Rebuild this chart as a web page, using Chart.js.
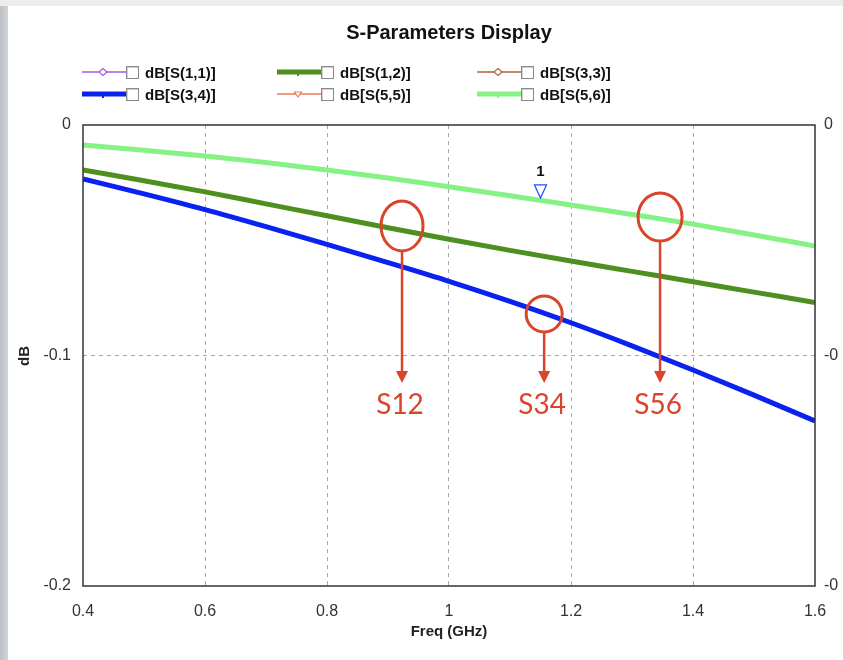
<!DOCTYPE html>
<html>
<head>
<meta charset="utf-8">
<script src="https://cdn.jsdelivr.net/npm/chart.js@4.4.1/dist/chart.umd.min.js"></script>
<style>
  html, body { margin: 0; padding: 0; width: 843px; height: 660px; overflow: hidden; background: #fff;
    font-family: "Liberation Sans", Arial, sans-serif; }
  #edgeLeft { position: absolute; left: 0; top: 0; width: 8px; height: 660px;
    background: linear-gradient(to right, #bcc0c4, #d2d5d8); }
  #edgeTop { position: absolute; left: 0; top: 0; width: 843px; height: 6px; background: #ececec; }
  #plot { position: absolute; left: 0; top: 0; }
  #title { position: absolute; left: 249px; width: 400px; top: 21px; text-align: center;
    font-weight: bold; font-size: 20px; color: #111; }
  #ytitle { position: absolute; left: 4px; top: 346px; width: 40px; height: 20px; line-height: 20px;
    text-align: center; font-weight: bold; font-size: 15px; color: #222; transform: rotate(-90deg); }
  #xtitle { position: absolute; left: 349px; width: 200px; top: 622px; text-align: center;
    font-family: "Liberation Sans Narrow", "Liberation Sans", Arial, sans-serif;
    font-weight: bold; font-size: 15px; color: #222; }
  .leg { position: absolute; height: 16px; white-space: nowrap; }
  .leg svg { position: absolute; left: 0; top: 0; }
  .leg .box { position: absolute; top: 1px; width: 11px; height: 11px; background: #fff;
    border: 1px solid #8a8a8a; box-shadow: inset 1px 1px 0 #d0d0d0; }
  .leg .txt { position: absolute; top: -1px; font-weight: bold; font-size: 15px; color: #111; }
</style>
</head>
<body>
<div id="edgeLeft"></div>
<div id="edgeTop"></div>
<canvas id="plot" width="843" height="660"></canvas>
<div id="title">S-Parameters Display</div>
<div id="ytitle">dB</div>
<div id="xtitle">Freq (GHz)</div>
<div id="legend"></div>
<script>
// Frequency sweep (GHz) and traces (dB)
const freqGHz = [0.4, 0.5, 0.6, 0.7, 0.8, 0.9, 1.0, 1.1, 1.2, 1.3, 1.4, 1.5, 1.6];
const s12 = [-0.0195, -0.0242, -0.0290, -0.0342, -0.0394, -0.0446, -0.0496, -0.0544, -0.0590, -0.0635, -0.0680, -0.0725, -0.0770];
const s34 = [-0.0234, -0.0299, -0.0367, -0.0441, -0.0518, -0.0597, -0.0678, -0.0765, -0.0858, -0.0958, -0.1063, -0.1172, -0.1284];
const s56 = [-0.0087, -0.0110, -0.0134, -0.0163, -0.0195, -0.0230, -0.0268, -0.0307, -0.0347, -0.0388, -0.0430, -0.0477, -0.0525];

// Axis tick labels
const xTickLabels = ['0.4', '0.6', '0.8', '1', '1.2', '1.4', '1.6'];
const yTickLabels = ['-0.2', '-0.1', '0'];
const y2TickLabels = ['-0', '-0', '0'];

// Legend entries (two rows of three)
const legendNames = ['dB[S(1,1)]', 'dB[S(1,2)]', 'dB[S(3,3)]', 'dB[S(3,4)]', 'dB[S(5,5)]', 'dB[S(5,6)]'];

// Marker 1 on S(5,6)
const markerFreq = 1.15;
const markerDb = -0.0325;

// Highlighted points
const calloutLabels = ['S12', 'S34', 'S56'];
const calloutFreq = [0.923, 1.156, 1.346];
const calloutDb = [-0.0438, -0.0820, -0.0399];

const legendStyle = [
  { color: '#a45ae6', width: 1.5, marker: 'diamond' },
  { color: '#4f8f1f', width: 5, marker: 'tick' },
  { color: '#b0623a', width: 1.5, marker: 'diamond' },
  { color: '#0a22f0', width: 5, marker: 'tick' },
  { color: '#ee7a58', width: 1.5, marker: 'tri' },
  { color: '#86f286', width: 5, marker: 'tick' }
];
const colX = [82, 277, 477];
const rowY = [65, 87];
const legendEl = document.getElementById('legend');
legendNames.forEach((name, i) => {
  const st = legendStyle[i];
  const col = i % 3, row = Math.floor(i / 3);
  const d = document.createElement('div');
  d.className = 'leg';
  d.style.left = colX[col] + 'px';
  d.style.top = rowY[row] + 'px';
  let mk = '';
  if (st.marker === 'diamond') {
    mk = `<polygon points="21,3.5 25,7 21,10.5 17,7" fill="#fff" stroke="${st.color}" stroke-width="1.2"/>`;
  } else if (st.marker === 'tri') {
    mk = `<polygon points="17.5,5 24.5,5 21,10" fill="#fff" stroke="${st.color}" stroke-width="1.2"/>`;
  } else {
    mk = `<line x1="21" y1="7" x2="21" y2="11" stroke="${st.color}" stroke-width="2"/>`;
  }
  d.innerHTML =
    `<svg width="44" height="16"><line x1="0" y1="7" x2="44" y2="7" stroke="${st.color}" stroke-width="${st.width}"/>${mk}</svg>` +
    `<span class="box" style="left:44px"></span>` +
    `<span class="txt" style="left:63px">${name}</span>`;
  legendEl.appendChild(d);
});

const pts = arr => freqGHz.map((f, i) => ({ x: f, y: arr[i] }));

// Plot frame, marker and highlighted points
const overlay = {
  id: 'overlay',
  afterDatasetsDraw(chart) {
    const { ctx, chartArea: a, scales } = chart;
    const xs = scales.x, ys = scales.y;
    ctx.save();
    ctx.strokeStyle = '#333';
    ctx.lineWidth = 1.5;
    ctx.strokeRect(a.left, a.top, a.right - a.left, a.bottom - a.top);

    // marker 1
    const mx = xs.getPixelForValue(markerFreq);
    const my = ys.getPixelForValue(markerDb);
    ctx.strokeStyle = '#2a4cff';
    ctx.lineWidth = 1.3;
    ctx.fillStyle = '#fff';
    ctx.beginPath();
    ctx.moveTo(mx - 6, my - 15);
    ctx.lineTo(mx + 6, my - 15);
    ctx.lineTo(mx, my - 2);
    ctx.closePath();
    ctx.fill();
    ctx.stroke();
    ctx.fillStyle = '#111';
    ctx.font = 'bold 15px "Liberation Sans", Arial, sans-serif';
    ctx.textAlign = 'center';
    ctx.textBaseline = 'alphabetic';
    ctx.fillText('1', mx, my - 24);

    // callouts
    const red = '#d9452b';
    const radii = [[21, 25], [18, 18], [22, 24]];
    const tipY = ys.getPixelForValue(-0.1119);
    calloutLabels.forEach((lab, i) => {
      const cx = xs.getPixelForValue(calloutFreq[i]);
      const cy = ys.getPixelForValue(calloutDb[i]);
      const [rx, ry] = radii[i];
      ctx.strokeStyle = red;
      ctx.fillStyle = red;
      ctx.lineWidth = 3;
      ctx.beginPath();
      ctx.ellipse(cx, cy, rx, ry, 0, 0, Math.PI * 2);
      ctx.stroke();
      ctx.lineWidth = 2.5;
      ctx.beginPath();
      ctx.moveTo(cx, cy + ry);
      ctx.lineTo(cx, tipY - 10);
      ctx.stroke();
      ctx.beginPath();
      ctx.moveTo(cx - 6, tipY - 12);
      ctx.lineTo(cx + 6, tipY - 12);
      ctx.lineTo(cx, tipY);
      ctx.closePath();
      ctx.fill();
      ctx.font = '28px Lato, "Open Sans", sans-serif';
      ctx.textAlign = 'center';
      ctx.fillText(lab, cx - 2, tipY + 31);
    });
    ctx.restore();
  }
};

const gridColor = (c, n) => (c.index === 0 || c.index === n - 1) ? 'rgba(0,0,0,0)' : '#a9a9a9';
const tickFont = { family: '"Liberation Sans", Arial, sans-serif', size: 16 };
const line = (label, arr, color) => ({
  label, data: pts(arr), borderColor: color, borderWidth: 5, pointRadius: 0,
  cubicInterpolationMode: 'monotone'
});

new Chart(document.getElementById('plot'), {
  type: 'line',
  data: {
    datasets: [
      line('dB[S(5,6)]', s56, '#86f286'),
      line('dB[S(1,2)]', s12, '#4f8f1f'),
      line('dB[S(3,4)]', s34, '#0a22f0')
    ]
  },
  options: {
    responsive: false,
    animation: false,
    devicePixelRatio: 1,
    layout: { padding: { top: 125, left: 0, right: 0, bottom: 0 } },
    plugins: { legend: { display: false }, tooltip: { enabled: false }, title: { display: false } },
    scales: {
      x: {
        type: 'linear', min: 0.4, max: 1.6, position: 'bottom',
        ticks: { stepSize: 0.2, padding: 16, color: '#333', font: tickFont, maxRotation: 0,
                 callback: (v, i) => xTickLabels[i] },
        grid: { drawTicks: false, lineWidth: 1, color: c => gridColor(c, xTickLabels.length) },
        border: { display: false, dash: [4, 4] },
        afterFit: s => { s.height = 74; }
      },
      y: {
        min: -0.2, max: 0, position: 'left',
        ticks: { stepSize: 0.1, padding: 12, color: '#333', font: tickFont,
                 callback: (v, i) => yTickLabels[i] },
        grid: { drawTicks: false, lineWidth: 1, color: c => gridColor(c, yTickLabels.length) },
        border: { display: false, dash: [4, 4] },
        afterFit: s => { s.width = 83; }
      },
      y2: {
        min: -0.2, max: 0, position: 'right',
        ticks: { stepSize: 0.1, padding: 9, color: '#333', font: tickFont,
                 callback: (v, i) => y2TickLabels[i] },
        grid: { display: false, drawTicks: false },
        border: { display: false },
        afterFit: s => { s.width = 28; }
      }
    }
  },
  plugins: [overlay]
});
</script>
</body>
</html>
